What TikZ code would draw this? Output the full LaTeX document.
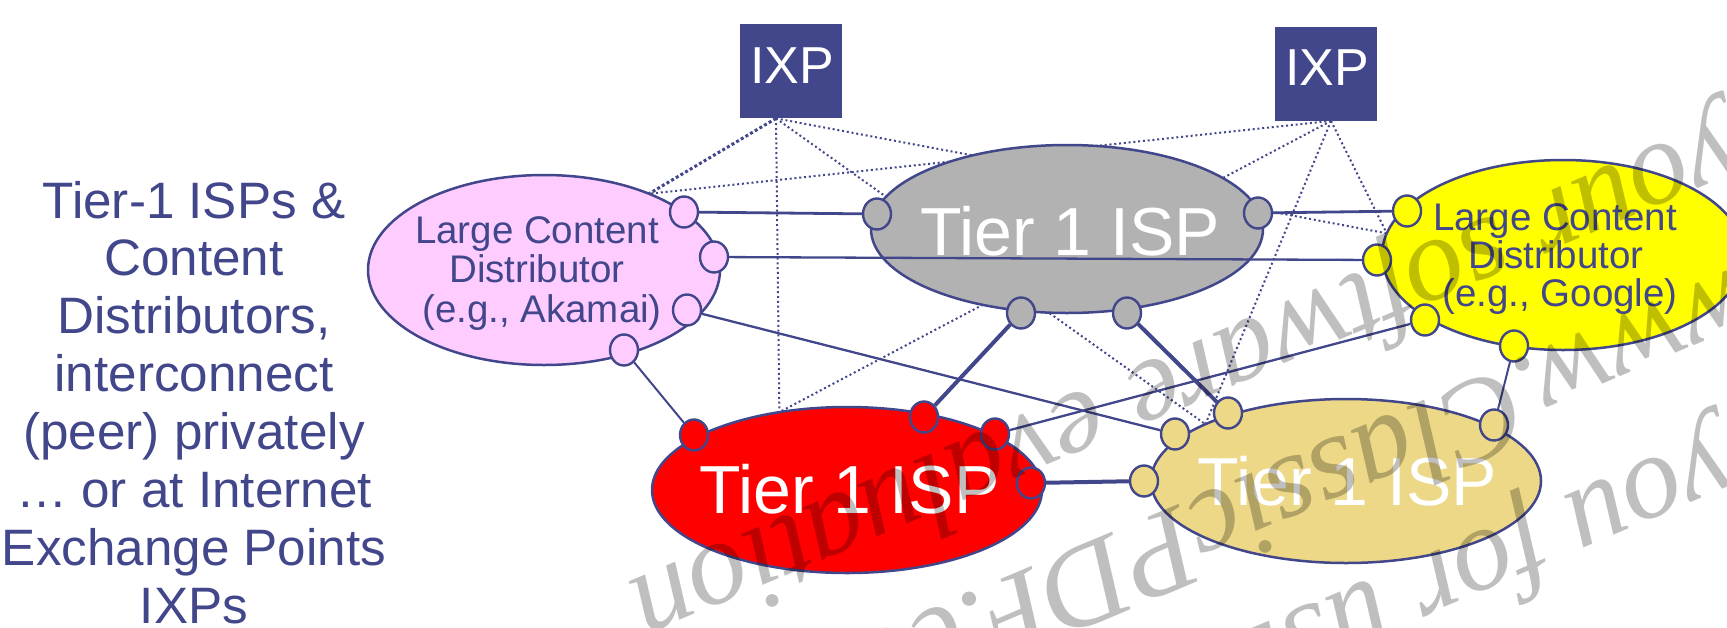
\documentclass[tikz,border=0pt]{standalone}
\usepackage{fontspec}
\setmainfont{Liberation Sans}
\newfontfamily\stampfont{Liberation Serif}
\usetikzlibrary{shapes.geometric,backgrounds}
\definecolor{navy}{RGB}{66,70,138}
\definecolor{pinkfill}{RGB}{255,204,255}
\definecolor{greyfill}{RGB}{178,178,178}
\definecolor{yellowfill}{RGB}{255,255,0}
\definecolor{redfill}{RGB}{255,0,0}
\definecolor{khakifill}{RGB}{236,216,134}
\begin{document}
\begin{tikzpicture}[x=0.5pt,y=-0.5pt,
  bigoval/.style={ellipse, draw=navy, line width=1.25pt, inner sep=0pt, outer sep=0pt},
  portdot/.style={ellipse, draw=navy, line width=1.2pt, inner sep=0pt,
                  minimum width=14pt, minimum height=15.5pt},
  ixpbox/.style={rectangle, fill=navy, inner sep=0pt, minimum width=51pt, minimum height=47pt},
  ixplabel/.style={text=white, font=\fontsize{26pt}{26pt}\selectfont, anchor=base, inner sep=0pt},
  ispname/.style={text=white, font=\fontsize{34pt}{34pt}\selectfont, anchor=base, inner sep=0pt},
  cdnline/.style={text=navy, font=\fontsize{19.25pt}{19.25pt}\selectfont, anchor=base, inner sep=0pt},
  sideline/.style={text=navy, font=\fontsize{25.6pt}{25.6pt}\selectfont, anchor=base, inner sep=0pt},
  solidlink/.style={draw=navy, line width=1.15pt},
  thinlink/.style={draw=navy, line width=1pt},
  widelink/.style={draw=navy, line width=1.4pt},
  heavylink/.style={draw=navy, line width=2pt},
  ixplink/.style={draw=navy, line width=1pt, dash pattern=on 1pt off 1.4pt},
  ixplinkheavy/.style={draw=navy, line width=1.5pt, dash pattern=on 1.5pt off 1.2pt},
  stamp/.style={text=black, text opacity=0.25, font=\stampfont\itshape\fontsize{60pt}{60pt}\selectfont,
                anchor=base west, rotate=203, inner sep=0pt}]
\useasboundingbox (0,0) rectangle (1727,627);

% left-hand caption
\foreach \t [count=\i] in {Tier-1 ISPs \&, Content, {Distributors,}, interconnect,
                            (peer) privately, … or at Internet, Exchange Points, IXPs}
  \node[sideline] (side\i) at (194, {218+57.9*(\i-1)}) {\t};

% exchange points
\node[ixpbox] (ixpA) at (791,71) {};
\node[ixpbox] (ixpB) at (1326,73.5) {};
\node[ixplabel] (ixpAname) at (792,83) {IXP};
\node[ixplabel] (ixpBname) at (1327,85) {IXP};

% networks
\node[bigoval, fill=pinkfill,   minimum width=176pt, minimum height=95pt] (akamai) at (544,270) {};
\node[bigoval, fill=greyfill,   minimum width=196pt, minimum height=84pt] (topisp) at (1067,229) {};
\node[bigoval, fill=yellowfill, minimum width=181pt, minimum height=95pt] (google) at (1563,255) {};
\node[bigoval, fill=redfill,    minimum width=195pt, minimum height=83pt] (redisp) at (847,490) {};
\node[bigoval, fill=khakifill,  minimum width=195pt, minimum height=82pt] (tanisp) at (1346,481) {};

\node[cdnline] (akamaiL1) at (537,243) {Large Content};
\node[cdnline] (akamaiL2) at (537,282) {Distributor};
\node[cdnline] (akamaiL3) at (542,322) {(e.g., Akamai)};
\node[cdnline] (googleL1) at (1555,230) {Large Content};
\node[cdnline] (googleL2) at (1556,268) {Distributor};
\node[cdnline] (googleL3) at (1560,306) {(e.g., Google)};

\node[ispname] (topname) at (1070,255) {Tier 1 ISP};
\node[ispname] (redname) at (849.5,513) {Tier 1 ISP};
\node[ispname] (tanname) at (1347,505) {Tier 1 ISP};

% IXP peering (behind the networks)
\begin{scope}[on background layer]
  \draw[ixplinkheavy] ([xshift=-7.5pt]ixpA.south) -- (akamai.36);
  \draw[ixplink] ([xshift=-7.5pt]ixpA.south) -- (redisp.131.5);
  \draw[ixplink] ([xshift=-7.5pt]ixpA.south) -- (tanisp.158.4);
  \draw[ixplink] ([xshift=-7.5pt]ixpA.south) -- (google.173);
  \draw[ixplink] ([xshift=2.5pt]ixpB.south) -- (akamai.36);
  \draw[ixplink] ([xshift=2.5pt]ixpB.south) -- (redisp.131.5);
  \draw[ixplink] ([xshift=2.5pt]ixpB.south) -- (tanisp.158.4);
  \draw[ixplink] ([xshift=2.5pt]ixpB.south) -- (google.173);
\end{scope}

% router ports
\node[portdot, fill=pinkfill] (a1) at (684,212) {};
\node[portdot, fill=pinkfill] (a2) at (714,257) {};
\node[portdot, fill=pinkfill] (a3) at (687,310) {};
\node[portdot, fill=pinkfill] (a4) at (624,350) {};
\node[portdot, fill=greyfill] (t1) at (877,214) {};
\node[portdot, fill=greyfill] (t2) at (1258,213) {};
\node[portdot, fill=greyfill] (t3) at (1021,313) {};
\node[portdot, fill=greyfill] (t4) at (1127,313) {};
\node[portdot, fill=yellowfill] (g1) at (1407,211) {};
\node[portdot, fill=yellowfill] (g2) at (1377,260) {};
\node[portdot, fill=yellowfill] (g3) at (1425,320) {};
\node[portdot, fill=yellowfill] (g4) at (1514,346) {};
\node[portdot, fill=redfill] (r1) at (694,435) {};
\node[portdot, fill=redfill] (r2) at (924,417) {};
\node[portdot, fill=redfill] (r3) at (995,434) {};
\node[portdot, fill=redfill] (r4) at (1031,483) {};
\node[portdot, fill=khakifill] (k1) at (1144,481) {};
\node[portdot, fill=khakifill] (k2) at (1175,434) {};
\node[portdot, fill=khakifill] (k3) at (1228,413) {};
\node[portdot, fill=khakifill] (k4) at (1494,425) {};

% private peering links
\draw[widelink]  (a1) -- (t1);
\draw[widelink]  (t2) -- (g1);
\draw[solidlink] (a2) -- (g2);
\draw[solidlink] (a3) -- (k2);
\draw[thinlink]  (a4) -- (r1);
\draw[heavylink] (t3) -- (r2);
\draw[heavylink] (t4) -- (k3);
\draw[solidlink] (r3) -- (g3);
\draw[heavylink] (r4) -- (k1);
\draw[thinlink]  (g4) -- (k4);

% converter stamp
\begin{scope}
  \clip (0,0) rectangle (1727,627);
  \node[stamp] (stampC) at (1725,117) {your software evaluation};
  \node[stamp] (stampB) at (1745,264) {www.ClassicPDF.com};
  \node[stamp] (stampA) at (1718,431) {you for using};
\end{scope}
\end{tikzpicture}
\end{document}
